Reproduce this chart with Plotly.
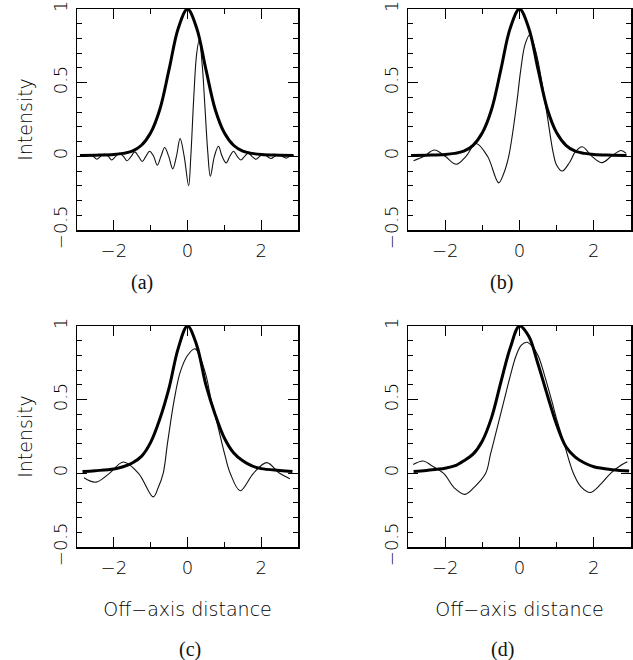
import plotly.graph_objects as go

# ---------------- data ----------------
# thick curves (beam profile)
x_thick_ab = [-2.92, -2.5, -2.0, -1.75, -1.5, -1.25, -1.0, -0.75, -0.5, -0.25, 0.0,
              0.25, 0.5, 0.75, 1.0, 1.25, 1.5, 1.75, 2.0, 2.5, 2.88]
y_thick_ab = [0.005, 0.008, 0.013, 0.02, 0.035, 0.075, 0.16, 0.32, 0.59, 0.87, 1.0,
              0.87, 0.59, 0.32, 0.16, 0.075, 0.035, 0.02, 0.013, 0.008, 0.005]

x_thick_c = [-2.85, -2.5, -2.0, -1.75, -1.5, -1.25, -1.0, -0.75, -0.5, -0.25, 0.0,
             0.25, 0.5, 0.75, 1.0, 1.25, 1.5, 1.75, 2.0, 2.5, 2.85]
y_thick_c = [0.012, 0.018, 0.03, 0.045, 0.07, 0.115, 0.21, 0.37, 0.58, 0.85, 1.0,
             0.87, 0.6, 0.4, 0.24, 0.14, 0.085, 0.05, 0.032, 0.02, 0.013]

x_thick_d = [-2.85, -2.5, -2.0, -1.75, -1.5, -1.25, -1.0, -0.75, -0.5, -0.25, 0.0,
             0.25, 0.5, 0.75, 1.0, 1.25, 1.5, 1.75, 2.0, 2.5, 2.95]
y_thick_d = [0.012, 0.02, 0.035, 0.05, 0.085, 0.13, 0.22, 0.38, 0.62, 0.85, 1.0,
             0.93, 0.74, 0.53, 0.33, 0.18, 0.11, 0.07, 0.045, 0.025, 0.015]

# thin curves
x_thin_a = [-2.92, -2.77, -2.67, -2.56, -2.46, -2.36, -2.26, -2.15, -2.06, -1.95, -1.85,
            -1.74, -1.64, -1.53, -1.43, -1.33, -1.23, -1.13, -1.03, -0.92, -0.82,
            -0.72, -0.62, -0.51, -0.40, -0.30, -0.20, -0.09, 0.03, 0.09, 0.17,
            0.25, 0.32, 0.40, 0.47, 0.55, 0.62, 0.73, 0.84, 0.94, 1.05, 1.15, 1.25,
            1.35, 1.45, 1.55, 1.65, 1.75, 1.86, 1.96, 2.06, 2.16, 2.27, 2.37, 2.47,
            2.57, 2.68, 2.78, 2.88]
y_thin_a = [0.0, 0.0, 0.012, 0.0, -0.02, 0.0, 0.015, 0.0, -0.025, 0.0, 0.02,
            0.0, -0.03, 0.0, 0.03, 0.0, -0.035, 0.0, 0.035, 0.0, -0.06,
            0.0, 0.06, 0.0, -0.085, 0.0, 0.12, 0.0, -0.20, 0.0, 0.40,
            0.70, 0.79, 0.62, 0.35, 0.03, -0.135, 0.0, 0.068, 0.0, -0.045, 0.0, 0.035,
            0.0, -0.025, 0.0, 0.022, 0.0, -0.02, 0.0, 0.015, 0.0, -0.015, 0.0, 0.012,
            0.0, -0.012, 0.0, 0.005]

x_thin_b = [-2.85, -2.57, -2.29, -2.0, -1.70, -1.44, -1.17, -0.86, -0.56, -0.43, -0.29,
            -0.08, 0.03, 0.15, 0.28, 0.45, 0.61, 0.75, 0.91, 1.0, 1.15, 1.35, 1.50,
            1.69, 1.95, 2.22, 2.47, 2.73, 2.87]
y_thin_b = [-0.03, 0.0, 0.043, 0.0, -0.054, 0.0, 0.087, 0.0, -0.18, -0.12, 0.0,
            0.35, 0.58, 0.76, 0.825, 0.70, 0.49, 0.27, 0.02, -0.06, -0.10, -0.04, 0.03,
            0.065, 0.0, -0.043, 0.0, 0.04, 0.02]

x_thin_c = [-2.81, -2.49, -2.12, -1.74, -1.33, -0.93, -0.80, -0.66, -0.54, -0.36, -0.20,
            0.0, 0.21, 0.48, 0.64, 0.80, 1.02, 1.16, 1.43, 1.79, 2.15, 2.50, 2.78]
y_thin_c = [-0.03, -0.06, 0.0, 0.077, 0.0, -0.16, -0.10, 0.0, 0.21, 0.5, 0.685,
            0.8, 0.845, 0.685, 0.5, 0.345, 0.12, 0.0, -0.118, 0.0, 0.073, 0.0, -0.036]

x_thin_d = [-2.86, -2.59, -2.35, -2.04, -1.75, -1.47, -1.20, -0.91, -0.78, -0.65, -0.41,
            -0.25, -0.09, 0.05, 0.20, 0.35, 0.50, 0.68, 0.86, 1.02, 1.18, 1.45, 1.65,
            1.91, 2.20, 2.45, 2.70, 2.90]
y_thin_d = [0.06, 0.084, 0.05, 0.0, -0.10, -0.143, -0.09, 0.0, 0.13, 0.26, 0.5,
            0.66, 0.8, 0.87, 0.89, 0.86, 0.8, 0.66, 0.5, 0.35, 0.22, 0.0, -0.09,
            -0.13, -0.07, 0.0, 0.05, 0.078]

x_tick_vals = [-2, 0, 2]
x_tick_labels = ["\u22122", "0", "2"]
x_minor_vals = [-1, 1]
y_tick_vals = [-0.5, 0, 0.5, 1]
y_tick_labels = ["\u22120.5", "0", "0.5", "1"]
y_minor_vals = [-0.4, -0.3, -0.2, -0.1, 0.1, 0.2, 0.3, 0.4, 0.6, 0.7, 0.8, 0.9]
panel_labels = ["(a)", "(b)", "(c)", "(d)"]
x_title = "Off\u2212axis distance"
y_title = "Intensity"

# ---------------- figure ----------------
W, H = 633, 660
fig = go.Figure()

panels = [
    ("x", "y", x_thick_ab, y_thick_ab, x_thin_a, y_thin_a),
    ("x2", "y2", x_thick_ab, y_thick_ab, x_thin_b, y_thin_b),
    ("x3", "y3", x_thick_c, y_thick_c, x_thin_c, y_thin_c),
    ("x4", "y4", x_thick_d, y_thick_d, x_thin_d, y_thin_d),
]
for xa, ya, xk, yk, xt, yt in panels:
    fig.add_trace(go.Scatter(x=xt, y=yt, xaxis=xa, yaxis=ya, mode="lines",
                             line=dict(color="#111", width=1.1, shape="spline", smoothing=1.0),
                             showlegend=False, hoverinfo="skip", cliponaxis=True))
    fig.add_trace(go.Scatter(x=xk, y=yk, xaxis=xa, yaxis=ya, mode="lines",
                             line=dict(color="#000", width=3, shape="spline", smoothing=1.0),
                             showlegend=False, hoverinfo="skip", cliponaxis=True))

FONT = "DejaVu Sans ExtraLight, DejaVu Sans Light, DejaVu Sans"
tick_font = dict(family=FONT, size=18, color="#000")
title_font = dict(family=FONT, size=19, color="#000")

def px_dom_x(a, b):
    return [a / W, b / W]

def px_dom_y(top, bottom):
    return [1 - bottom / H, 1 - top / H]

xdoms = [px_dom_x(77, 298), px_dom_x(408, 631), px_dom_x(77, 298), px_dom_x(408, 631)]
ydoms = [px_dom_y(9, 230), px_dom_y(9, 230), px_dom_y(326, 547), px_dom_y(326, 547)]

layout = dict(width=W, height=H, margin=dict(l=0, r=0, t=0, b=0, pad=0),
              autosize=False,
              paper_bgcolor="white", plot_bgcolor="white", showlegend=False)

for i in range(4):
    s = "" if i == 0 else str(i + 1)
    xa = dict(domain=xdoms[i], anchor="y" + s, range=[-3, 3], automargin=False,
              tickmode="array", tickvals=x_tick_vals, ticktext=x_tick_labels,
              ticks="inside", ticklen=10, tickwidth=1, tickcolor="#000",
              showline=True, linecolor="#000", linewidth=1.5, mirror="allticks",
              showgrid=False, zeroline=False, tickfont=tick_font,
              ticklabelstandoff=4,
              minor=dict(tickmode="array", tickvals=x_minor_vals, ticks="inside",
                         ticklen=5, tickwidth=1, tickcolor="#000", showgrid=False))
    ya = dict(domain=ydoms[i], anchor="x" + s, range=[-0.5, 1], automargin=False,
              tickmode="array", tickvals=y_tick_vals, ticktext=y_tick_labels,
              tickangle=-90,
              ticks="inside", ticklen=10, tickwidth=1, tickcolor="#000",
              showline=True, linecolor="#000", linewidth=1.5, mirror="allticks",
              showgrid=False, zeroline=False, tickfont=tick_font,
              ticklabelstandoff=1,
              minor=dict(tickmode="array", tickvals=y_minor_vals, ticks="inside",
                         ticklen=5, tickwidth=1, tickcolor="#000", showgrid=False))
    if i in (0, 2):
        ya["title"] = dict(text=y_title, font=title_font, standoff=12)
    if i in (2, 3):
        xa["title"] = dict(text=x_title, font=title_font, standoff=25)
    layout["xaxis" + s] = xa
    layout["yaxis" + s] = ya

label_pos = [(142, 283), (501, 282), (190, 649), (502, 649)]
annotations = []
for lab, (px, py) in zip(panel_labels, label_pos):
    annotations.append(dict(text=lab, x=px / W, y=1 - py / H, xref="paper", yref="paper",
                            xanchor="center", yanchor="middle", showarrow=False,
                            font=dict(family="Liberation Serif", size=20, color="#111")))
layout["annotations"] = annotations

fig.update_layout(**layout)
fig.write_html("out.html", config={"displayModeBar": False, "staticPlot": True},
               post_script="document.body.style.margin='0';document.body.style.padding='0';")
